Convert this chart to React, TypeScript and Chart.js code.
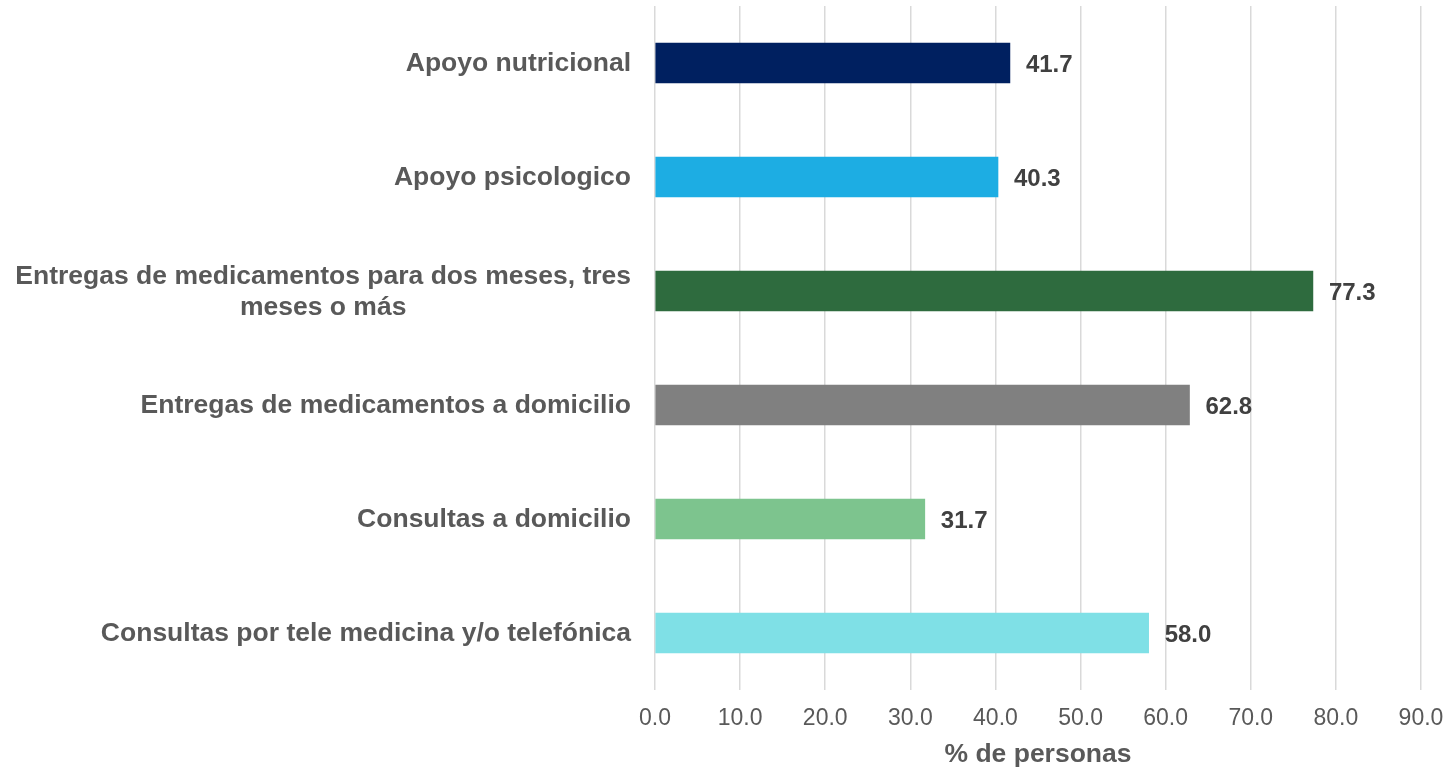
import React, { useEffect, useRef } from "react";
import { Chart, registerables } from "chart.js";

Chart.register(...registerables);

const categories: string[][] = [
  ["Apoyo nutricional"],
  ["Apoyo psicologico"],
  ["Entregas de medicamentos para dos meses, tres", "meses o más"],
  ["Entregas de medicamentos a domicilio"],
  ["Consultas a domicilio"],
  ["Consultas por tele medicina y/o telefónica"],
];
const values: number[] = [41.7, 40.3, 77.3, 62.8, 31.7, 58.0];
const barColors: string[] = ["#002060", "#1DADE3", "#2E6B3E", "#808080", "#7DC48E", "#7FE0E6"];
const xTicksMax = 90;
const xTickStep = 10;
const xTitle = "% de personas";

const FONT = "'Liberation Sans', Arial, sans-serif";

const labelsPlugin = {
  id: "customLabels",
  afterDraw(chart: any) {
    const ctx = chart.ctx;
    const y = chart.scales.y;
    const x = chart.scales.x;
    ctx.save();
    ctx.font = `bold 26.5px ${FONT}`;
    ctx.fillStyle = "#595959";
    ctx.textBaseline = "middle";
    ctx.textAlign = "center";
    const right = chart.chartArea.left - 24;
    const lh = 31;
    categories.forEach((lines, i) => {
      const cy = y.getPixelForValue(i);
      const maxW = Math.max(...lines.map((l) => ctx.measureText(l).width));
      const cx = right - maxW / 2;
      const startY = cy - ((lines.length - 1) * lh) / 2 + 1;
      lines.forEach((l, j) => ctx.fillText(l, cx, startY + j * lh));
    });
    ctx.font = `bold 24px ${FONT}`;
    ctx.fillStyle = "#404040";
    ctx.textAlign = "left";
    values.forEach((v, i) => {
      const px = x.getPixelForValue(v) + 16;
      const py = y.getPixelForValue(i) + 2;
      ctx.fillText(v.toFixed(1), px, py);
    });
    ctx.restore();
  },
};

export default function App() {
  const ref = useRef<HTMLCanvasElement | null>(null);
  useEffect(() => {
    if (!ref.current) return;
    const chart = new Chart(ref.current, {
      type: "bar",
      data: {
        labels: categories.map((c) => c.join(" ")),
        datasets: [
          {
            data: values,
            backgroundColor: barColors,
            barThickness: 40,
          },
        ],
      },
      plugins: [labelsPlugin],
      options: {
        indexAxis: "y",
        animation: false,
        responsive: true,
        maintainAspectRatio: false,
        layout: { padding: { left: 0, right: 27, top: 6, bottom: 0 } },
        plugins: { legend: { display: false }, tooltip: { enabled: false } },
        scales: {
          x: {
            min: 0,
            max: xTicksMax,
            ticks: {
              stepSize: xTickStep,
              color: "#595959",
              font: { family: FONT, size: 23 },
              padding: 15,
              callback: (v: any) => Number(v).toFixed(1),
            },
            grid: { color: "#d9d9d9", lineWidth: 1.5, drawTicks: false },
            border: { display: false },
            title: {
              display: true,
              text: xTitle,
              color: "#595959",
              font: { family: FONT, size: 26.5, weight: "bold" },
              padding: { top: 6, bottom: 1 },
            },
            afterFit: (s: any) => {
              s.height = 82;
              s.paddingLeft = 0;
              s.paddingRight = 0;
            },
          },
          y: {
            ticks: { display: false },
            grid: { display: false },
            border: { display: false },
            afterFit: (s: any) => {
              s.width = 655;
            },
          },
        },
      },
    } as any);
    return () => chart.destroy();
  }, []);
  return (
    <div style={{ position: "fixed", left: 0, top: 0, width: 1448, height: 772, background: "#fff" }}>
      <canvas ref={ref} />
    </div>
  );
}
